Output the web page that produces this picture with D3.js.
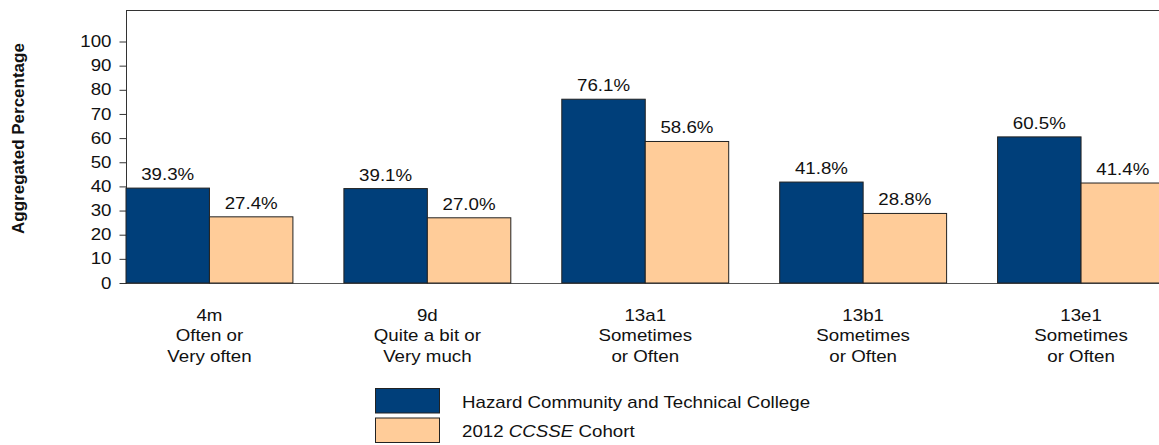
<!DOCTYPE html>
<html>
<head>
<meta charset="utf-8">
<script src="https://cdn.jsdelivr.net/npm/d3@7/dist/d3.min.js"></script>
<style>
  html, body { margin: 0; padding: 0; background: #fff; }
  svg { display: block; }
  text { font-family: "Liberation Sans", Arial, Helvetica, sans-serif; fill: #111; }
</style>
</head>
<body>
<svg id="chart" width="1159" height="445"></svg>
<script>
// ---- data ----
const categories = ["4m", "9d", "13a1", "13b1", "13e1"];
const categoryLines = [
  ["4m", "Often or", "Very often"],
  ["9d", "Quite a bit or", "Very much"],
  ["13a1", "Sometimes", "or Often"],
  ["13b1", "Sometimes", "or Often"],
  ["13e1", "Sometimes", "or Often"]
];
const seriesNames = ["Hazard Community and Technical College", "2012 CCSSE Cohort"];
const collegeValues = [39.3, 39.1, 76.1, 41.8, 60.5];
const cohortValues = [27.4, 27.0, 58.6, 28.8, 41.4];
const yTicks = [0, 10, 20, 30, 40, 50, 60, 70, 80, 90, 100];
const yTitle = "Aggregated Percentage";

// ---- layout ----
const colors = ["#003F7A", "#FFCC99"];
const SX = 1.17; // horizontal text stretch seen in the reference
const plotLeft = 126, plotTop = 10, plotBottom = 283;

const svg = d3.select("#chart");

const y = d3.scaleLinear().domain([0, 100]).range([plotBottom, 41.5]);
const x = d3.scaleBand().domain(categories).range([plotLeft, 1164.5])
  .paddingInner(0.234).paddingOuter(0);
const xs = d3.scaleBand().domain([0, 1]).range([0, x.bandwidth()]);

// plot frame (left and top), bottom axis line
svg.append("line").attr("x1", plotLeft).attr("x2", 1159).attr("y1", plotTop + 0.5).attr("y2", plotTop + 0.5)
  .attr("stroke", "#333").attr("stroke-width", 1);
svg.append("line").attr("x1", plotLeft).attr("x2", 1159).attr("y1", plotBottom + 0.5).attr("y2", plotBottom + 0.5)
  .attr("stroke", "#555").attr("stroke-width", 1.2);

// y axis
const yAxis = d3.axisLeft(y).tickValues(yTicks).tickSize(7).tickSizeOuter(0);
const gy = svg.append("g").attr("transform", `translate(${plotLeft + 0.5},0)`).call(yAxis);
gy.select(".domain").attr("stroke", "#333").attr("d", `M0,${plotTop}V${plotBottom + 1}`);
gy.selectAll(".tick line").attr("stroke", "#333");
gy.selectAll(".tick text")
  .attr("x", -15 / SX)
  .attr("transform", `scale(${SX},1)`)
  .style("font-size", "16px")
  .style("font-family", '"Liberation Sans", Arial, sans-serif')
  .attr("fill", "#111");

// y title
svg.append("text")
  .attr("transform", "translate(24,138.5) rotate(-90)")
  .attr("text-anchor", "middle")
  .style("font-size", "17px").style("font-weight", "bold")
  .text(yTitle);

// bars
const seriesValues = [collegeValues, cohortValues];
const rows = [];
categories.forEach((c, i) => {
  seriesValues.forEach((vals, s) => rows.push({ c, s, v: vals[i] }));
});

svg.append("g").selectAll("rect").data(rows).join("rect")
  .attr("x", d => x(d.c) + xs(d.s))
  .attr("y", d => y(d.v))
  .attr("width", xs.bandwidth())
  .attr("height", d => y(0) - y(d.v))
  .attr("fill", d => colors[d.s])
  .attr("stroke", "#222").attr("stroke-width", 1);

// value labels
svg.append("g").selectAll("text").data(rows).join("text")
  .attr("transform", d => `translate(${x(d.c) + xs(d.s) + xs.bandwidth() / 2},${y(d.v) - 8}) scale(${SX},1)`)
  .attr("text-anchor", "middle")
  .style("font-size", "16px")
  .text(d => d.v.toFixed(1) + "%");

// category labels
const lineY = [321, 341, 361.5];
const gx = svg.append("g");
categories.forEach((c, i) => {
  const cx = x(c) + x.bandwidth() / 2;
  categoryLines[i].forEach((line, k) => {
    gx.append("text")
      .attr("transform", `translate(${cx},${lineY[k]}) scale(${SX},1)`)
      .attr("text-anchor", "middle")
      .style("font-size", "16px")
      .text(line);
  });
});

// legend
const legend = svg.append("g");
const legY = [388.5, 418];
seriesNames.forEach((name, s) => {
  legend.append("rect")
    .attr("x", 375.5).attr("y", legY[s]).attr("width", 64).attr("height", 24.5)
    .attr("fill", colors[s]).attr("stroke", "#222").attr("stroke-width", 1);
  const t = legend.append("text")
    .attr("transform", `translate(462,${legY[s] + 19}) scale(${SX},1)`)
    .style("font-size", "16px");
  if (s === 0) {
    t.text(name);
  } else {
    t.append("tspan").text("2012 ");
    t.append("tspan").style("font-style", "italic").text("CCSSE");
    t.append("tspan").text(" Cohort");
  }
});
</script>
</body>
</html>
